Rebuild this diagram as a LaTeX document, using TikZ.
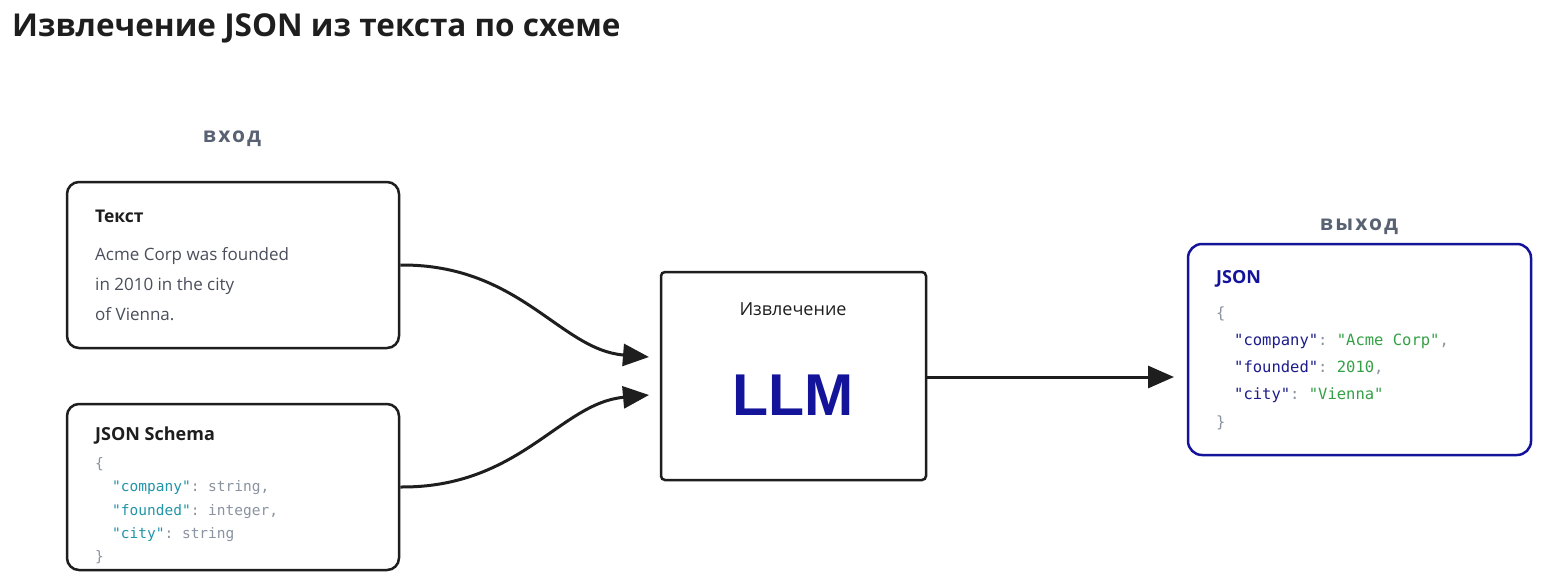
\documentclass[tikz,border=0pt]{standalone}
\usepackage{fontspec}
\setmainfont{Open Sans}
\setmonofont{DejaVu Sans Mono}
\newfontfamily\llmfont{Liberation Sans}
\newfontfamily\spacedfont[LetterSpace=10]{Open Sans}
\usetikzlibrary{arrows.meta}
\definecolor{ink}{HTML}{1E1E1E}
\definecolor{navy}{HTML}{14149A}
\definecolor{labelgray}{HTML}{596273}
\definecolor{bodygray}{HTML}{4B4F5C}
\definecolor{teal}{HTML}{2295A8}
\definecolor{punc}{HTML}{8A93A0}
\definecolor{jgreen}{HTML}{36A047}
\definecolor{jkey}{HTML}{1C1C8C}
\begin{document}
\begin{tikzpicture}[x=1pt,y=-1pt,
  card/.style={draw=ink, line width=2.5pt, rounded corners=12pt, fill=white, inner sep=0pt},
  outcard/.style={draw=navy, line width=2.5pt, rounded corners=14pt, fill=white, inner sep=0pt},
  llmbox/.style={draw=ink, line width=2.5pt, rounded corners=4pt, fill=white, inner sep=0pt},
  txt/.style={anchor=base west, inner sep=0pt},
  ctxt/.style={anchor=base, inner sep=0pt},
  head/.style={txt, font=\bfseries\fontsize{18}{18}\selectfont, text=ink},
  body/.style={txt, font=\fontsize{17}{17}\selectfont, text=bodygray},
  code/.style={txt, font=\ttfamily\fontsize{14.5}{14.5}\selectfont, text=punc},
  ocode/.style={txt, font=\ttfamily\fontsize{15.5}{15.5}\selectfont, text=punc},
  stage/.style={ctxt, font=\spacedfont\bfseries\fontsize{21}{21}\selectfont, text=labelgray},
  flow/.style={draw=ink, line width=3pt, -{Triangle[length=26pt,width=22pt]}}
]
\useasboundingbox (0,0) rectangle (1560,586);
\fill[white] (0,0) rectangle (1560,586);

% title
\node[txt, font=\bfseries\fontsize{31.5}{31.5}\selectfont, text=ink] (title) at (12,37) {Извлечение JSON из текста по схеме};

% stage labels
\node[stage] (inlabel) at (232,142) {вход};
\node[stage] (outlabel) at (1359,230) {выход};

% boxes
\node[card, minimum width=332pt, minimum height=166pt] (textbox) at (233,265) {};
\node[card, minimum width=332pt, minimum height=166pt] (schemabox) at (233,487) {};
\node[llmbox, minimum width=265pt, minimum height=208pt] (llm) at (793.5,376) {};
\node[outcard, minimum width=343pt, minimum height=211pt] (outbox) at (1359.5,349.5) {};

% text box content
\node[head, font=\bfseries\fontsize{17.5}{17.5}\selectfont] (texthead) at (95,222) {Текст};
\node[body] (t1) at (95,260) {Acme Corp was founded};
\node[body] (t2) at (95,290) {in 2010 in the city};
\node[body] (t3) at (95,320) {of Vienna.};

% schema box content
\node[head] (schemahead) at (95,440) {JSON Schema};
\node[code] (s0) at (95,468) {\{};
\node[code] (s1) at (112,491) {\textcolor{teal}{"company"}: string,};
\node[code] (s2) at (112,515) {\textcolor{teal}{"founded"}: integer,};
\node[code] (s3) at (112,538) {\textcolor{teal}{"city"}: string};
\node[code] (s4) at (95,561) {\}};

% llm content
\node[ctxt, font=\fontsize{18}{18}\selectfont, text=ink] (llmhead) at (793,315) {Извлечение};
\node[ctxt, font=\llmfont\bfseries\fontsize{59}{59}\selectfont, text=navy] (llmtext) at (793,415) {LLM};

% output content
\node[head, text=navy, font=\bfseries\fontsize{18}{18}\selectfont] (outhead) at (1216,283) {JSON};
\node[ocode] (o0) at (1216,318) {\{};
\node[ocode] (o1) at (1234,345) {\textcolor{jkey}{"company"}: \textcolor{jgreen}{"Acme Corp"},};
\node[ocode] (o2) at (1234,372) {\textcolor{jkey}{"founded"}: \textcolor{jgreen}{2010},};
\node[ocode] (o3) at (1234,399) {\textcolor{jkey}{"city"}: \textcolor{jgreen}{"Vienna"}};
\node[ocode] (o4) at (1216,427) {\}};

% connectors
\coordinate (in1) at (649,357);
\coordinate (in2) at (649,395);
\coordinate (out1) at (1174,377);
\draw[flow] (textbox.east) .. controls (520,264) and (560,350) .. (in1);
\draw[flow] (schemabox.east) .. controls (520,488) and (560,403) .. (in2);
\draw[flow] (llm.east |- out1) -- (out1);
\end{tikzpicture}
\end{document}
